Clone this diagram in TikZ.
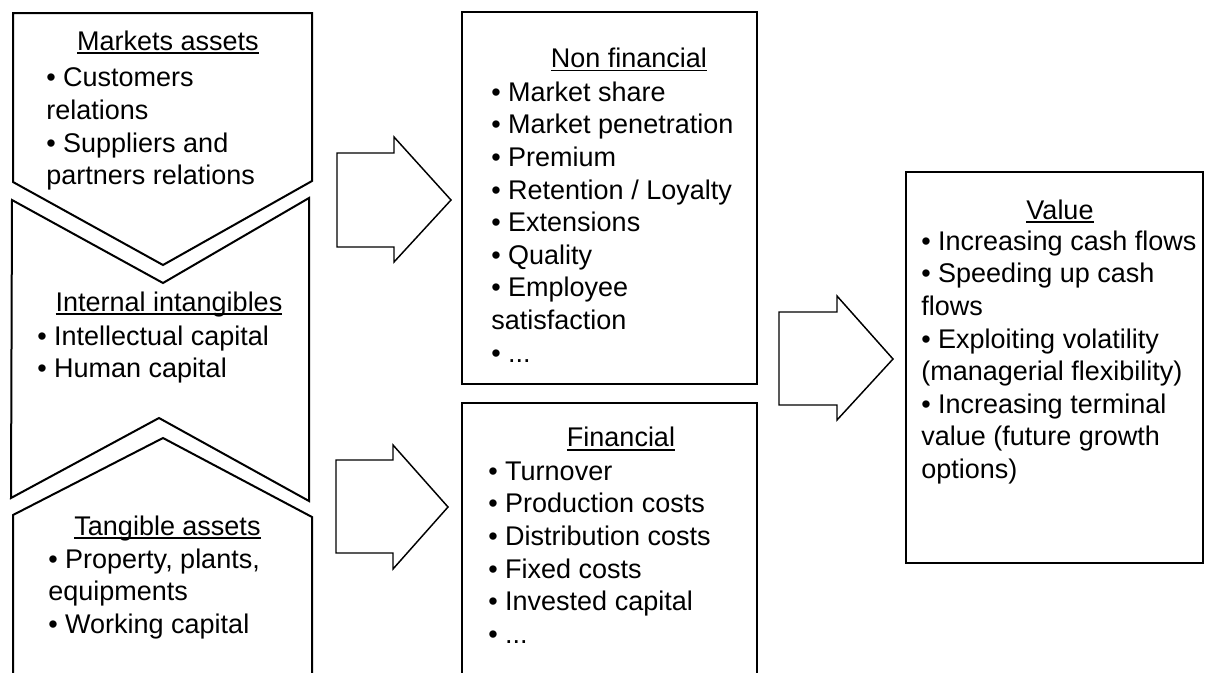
\documentclass[tikz,border=0pt]{standalone}
\usepackage{fontspec}
\setmainfont{Liberation Sans}
% underlined heading with a fixed rule position, as in a word processor
\newcommand\headline[1]{\setbox0\hbox{#1}\rlap{\rule[-2.9pt]{\wd0}{1.4pt}}\box0}
\newcommand\bodyfont{\fontsize{20.25}{24.45}\selectfont}
\begin{document}
\begin{tikzpicture}[x=0.75pt,y=-0.75pt,
  outline/.style={draw=black,line width=1.5pt,line join=miter},
  blockarrow/.style={draw=black,line width=1.1pt,line join=miter},
  heading/.style={anchor=base,inner sep=0pt,font=\bodyfont},
  items/.style={anchor=north west,inner sep=0pt,align=left,font=\bodyfont}]
\path[use as bounding box] (0,0) rectangle (1208,672);
\clip (0,0) rectangle (1208,672);

% left column: three interlocking chevron panels
\draw[outline] (13,13) -- (312,13) -- (312,181) -- (163,265) -- (13,182) -- cycle;
\draw[outline] (12,200) -- (163,283) -- (309,198) -- (309,501) -- (159,418) -- (11,498) -- cycle;
\draw[outline] (13,515) -- (163,438) -- (312,517) -- (312,690) -- (13,690) -- cycle;

% block arrows
\draw[blockarrow] (337,153) -- (394,153) -- (394,137) -- (451,200) -- (394,262) -- (394,247) -- (337,247) -- cycle;
\draw[blockarrow] (336,460) -- (393,460) -- (393,445) -- (448,507) -- (393,569) -- (393,553) -- (336,553) -- cycle;
\draw[blockarrow] (779,312) -- (837,312) -- (837,296) -- (893,359) -- (837,420) -- (837,405) -- (779,405) -- cycle;

% indicator and value boxes
\draw[outline] (462,12) rectangle (757,384);
\draw[outline] (462,403) rectangle (757,690);
\draw[outline] (906,172) rectangle (1203,563);

% texts
\node[heading] (mkt-h) at (168,50) {\headline{Markets assets}};
\node[items] (mkt-l) at (46,63.9) {\strut• Customers\\relations\\• Suppliers and\\partners relations};

\node[heading] (int-h) at (169,311) {\headline{Internal intangibles}};
\node[items] (int-l) at (37,322.2) {\strut• Intellectual capital\\• Human capital};

\node[heading] (tan-h) at (167.5,535) {\headline{Tangible assets}};
\node[items] (tan-l) at (48,545.2) {\strut• Property, plants,\\equipments\\• Working capital};

\node[heading] (nf-h) at (629,67.5) {\headline{Non financial}};
\node[items] (nf-l) at (491,78.2) {\strut• Market share\\• Market penetration\\• Premium\\• Retention / Loyalty\\• Extensions\\• Quality\\• Employee\\satisfaction\\• ...};

\node[heading] (fin-h) at (621,446.7) {\headline{Financial}};
\node[items] (fin-l) at (488,457.2) {\strut• Turnover\\• Production costs\\• Distribution costs\\• Fixed costs\\• Invested capital\\• ...};

\node[heading] (val-h) at (1060,219) {\headline{Value}};
\node[items] (val-l) at (921,227.2) {\strut• Increasing cash flows\\• Speeding up cash\\flows\\• Exploiting volatility\\(managerial flexibility)\\• Increasing terminal\\value (future growth\\options)};
\end{tikzpicture}
\end{document}
